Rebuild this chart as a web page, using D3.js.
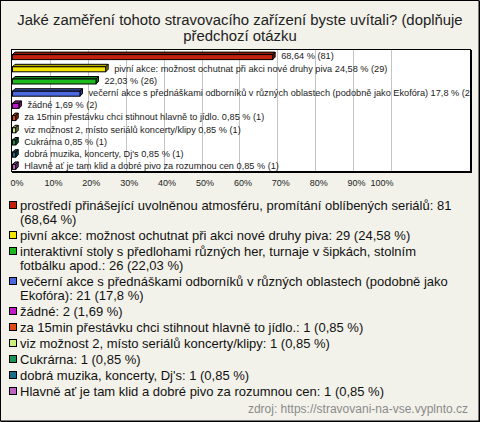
<!DOCTYPE html>
<html><head><meta charset="utf-8">
<script src="https://cdn.jsdelivr.net/npm/d3@7"></script>
<style>
html,body{margin:0;padding:0;background:#f3f2ea;}
svg{display:block;font-family:"Liberation Sans",Arial,sans-serif;}
</style></head>
<body>
<svg id="chart" width="480" height="422"></svg>
<script>
const titleLines = ["Jaké zaměření tohoto stravovacího zařízení byste uvítali? (doplňuje", "předchozí otázku"];
const categories = [
  "prostředí přinášející uvolněnou atmosféru, promítání oblíbených seriálů",
  "pivní akce: možnost ochutnat při akci nové druhy piva",
  "interaktivní stoly s předlohami různých her, turnaje v šipkách, stolním fotbálku apod.",
  "večerní akce s přednáškami odborníků v různých oblastech (podobně jako Ekofóra)",
  "žádné",
  "za 15min přestávku chci stihnout hlavně to jídlo.",
  "viz možnost 2, místo seriálů koncerty/klipy",
  "Cukrárna",
  "dobrá muzika, koncerty, Dj's",
  "Hlavně ať je tam klid a dobré pivo za rozumnou cen"
];
const counts = [81, 29, 26, 21, 2, 1, 1, 1, 1, 1];
const percents = [68.64, 24.58, 22.03, 17.8, 1.69, 0.85, 0.85, 0.85, 0.85, 0.85];
const showNameOnBar = [false, true, false, true, true, true, true, true, true, true];
const colors = ["#c4200e", "#f2e600", "#1cba1c", "#4a68e0", "#c01ac8", "#e04a14", "#ccf07c", "#1a9456", "#1a6e8c", "#c062c4"];
const xTicks = [0, 10, 20, 30, 40, 50, 60, 70, 80, 90, 100];
const sourceText = "zdroj: https://stravovani-na-vse.vyplnto.cz";

const fmt = v => String(v).replace(".", ",");
const svg = d3.select("#chart");
const W = 480, H = 422;

// outer frame
svg.append("rect").attr("x", 0.5).attr("y", 0.5).attr("width", W - 1.5).attr("height", H - 1.5)
  .attr("fill", "#f3f2ea").attr("stroke", "#000").attr("stroke-width", 1);
svg.append("line").attr("x1", W - 0.5).attr("x2", W - 0.5).attr("y1", 1).attr("y2", H).attr("stroke", "#000");
svg.append("line").attr("x1", 1).attr("x2", W).attr("y1", H - 0.5).attr("y2", H - 0.5).attr("stroke", "#000");

// title
svg.append("text").attr("x", 240).attr("text-anchor", "middle").attr("font-size", 14.9).attr("fill", "#222")
  .selectAll("tspan").data(titleLines).join("tspan")
  .attr("x", 240).attr("y", (d, i) => 25 + i * 16).text(d => d);

// plot
const plot = {left: 11, right: 471, top: 49, bottom: 171};
const x = d3.scaleLinear().domain([0, 100]).range([12, 391]);
const y = d3.scaleBand().domain(d3.range(categories.length)).range([plot.top, plot.bottom]);

svg.append("rect").attr("x", plot.left + 0.5).attr("y", plot.top + 0.5)
  .attr("width", plot.right - plot.left - 1).attr("height", plot.bottom - plot.top)
  .attr("fill", "#fff").attr("stroke", "#000");
svg.append("line").attr("x1", plot.right + 0.5).attr("x2", plot.right + 0.5).attr("y1", plot.top + 1).attr("y2", plot.bottom + 2).attr("stroke", "#000");
svg.append("line").attr("x1", plot.left + 1).attr("x2", plot.right + 1).attr("y1", plot.bottom + 1.5).attr("y2", plot.bottom + 1.5).attr("stroke", "#000");

svg.append("defs").append("clipPath").attr("id", "clip")
  .append("rect").attr("x", plot.left + 1).attr("y", plot.top + 1)
  .attr("width", plot.right - plot.left - 1.5).attr("height", plot.bottom - plot.top - 1);

const g = svg.append("g").attr("clip-path", "url(#clip)");
// grid
g.selectAll("line.grid").data(xTicks.slice(1)).join("line").attr("class", "grid")
  .attr("x1", d => Math.round(x(d)) + 0.5).attr("x2", d => Math.round(x(d)) + 0.5)
  .attr("y1", plot.top).attr("y2", plot.bottom).attr("stroke", "#c4c4c4");

// 3D bars
const dep = 2.5, bh = 5;
const bars = g.selectAll("g.bar").data(d3.range(categories.length)).join("g").attr("class", "bar");
bars.each(function(i) {
  const sel = d3.select(this);
  const c = y(i) + y.bandwidth() / 2;
  const x0 = x(0) + 0.5, x1 = x(percents[i]) + 0.5, y0 = c - 0.5, y1 = c + bh - 0.5;
  const col = d3.color(colors[i]);
  sel.append("path").attr("d", `M${x0},${y0}L${x0 + dep},${y0 - dep}L${x1 + dep},${y0 - dep}L${x1},${y0}Z`)
    .attr("fill", col.darker(0.9)).attr("stroke", "#000").attr("stroke-width", 1);
  sel.append("path").attr("d", `M${x1},${y0}L${x1 + dep},${y0 - dep}L${x1 + dep},${y1 - dep}L${x1},${y1}Z`)
    .attr("fill", col.darker(1.4)).attr("stroke", "#000").attr("stroke-width", 1);
  sel.append("rect").attr("x", x0).attr("y", y0).attr("width", x1 - x0).attr("height", bh)
    .attr("fill", col).attr("stroke", "#000").attr("stroke-width", 1);
  sel.append("text").attr("x", x1 + dep + 6).attr("y", c + 1).attr("dy", "0.35em")
    .attr("font-size", 9.2).attr("fill", "#222")
    .text((showNameOnBar[i] ? categories[i] + " " : "") + fmt(percents[i]) + " % (" + counts[i] + ")");
});

// axis labels
const ax = svg.append("g").attr("transform", `translate(0,${plot.bottom + 15})`);
const axis = d3.axisBottom(x).tickValues(xTicks).tickFormat(d => d + "%").tickSize(0).tickPadding(0);
ax.call(axis);
ax.select(".domain").remove();
ax.selectAll("text").attr("font-size", 9).attr("fill", "#222").attr("font-family", "Liberation Sans, Arial, sans-serif")
  .attr("dy", "0")
  .attr("text-anchor", (d, i) => i === 0 ? "start" : (i === xTicks.length - 1 ? "end" : "middle"))
  .attr("x", (d, i) => i === 0 ? -2 : (i === xTicks.length - 1 ? 2 : 3));

// legend
const leg = svg.append("g");
let ly = 205;
const maxW = 441, lineH = 14, itemStep = 16, lfs = 13;
categories.forEach((name, i) => {
  const label = name + ": " + counts[i] + " (" + fmt(percents[i]) + " %)";
  const t = leg.append("text").attr("font-size", lfs).attr("fill", "#111");
  const words = label.split(" ");
  let line = [], lines = [];
  const probe = leg.append("text").attr("font-size", lfs);
  words.forEach(w => {
    const test = line.concat([w]).join(" ");
    probe.text(test);
    if (probe.node().getComputedTextLength() > maxW && line.length) {
      lines.push(line.join(" ")); line = [w];
    } else line.push(w);
  });
  lines.push(line.join(" "));
  probe.remove();
  lines.forEach((ln, k) => {
    t.append("tspan").attr("x", 20).attr("y", ly + k * lineH).attr("dy", "0.35em").text(ln);
  });
  leg.append("rect").attr("x", 9.5).attr("y", ly - 3.5).attr("width", 7).attr("height", 7)
    .attr("fill", colors[i]).attr("stroke", "#000");
  ly += itemStep + (lines.length - 1) * lineH;
});

svg.append("text").attr("x", 468).attr("y", 409).attr("dy", "0.35em").attr("text-anchor", "end")
  .attr("font-size", 12).attr("fill", "#8a8a8a").text(sourceText);
</script>
</body></html>
